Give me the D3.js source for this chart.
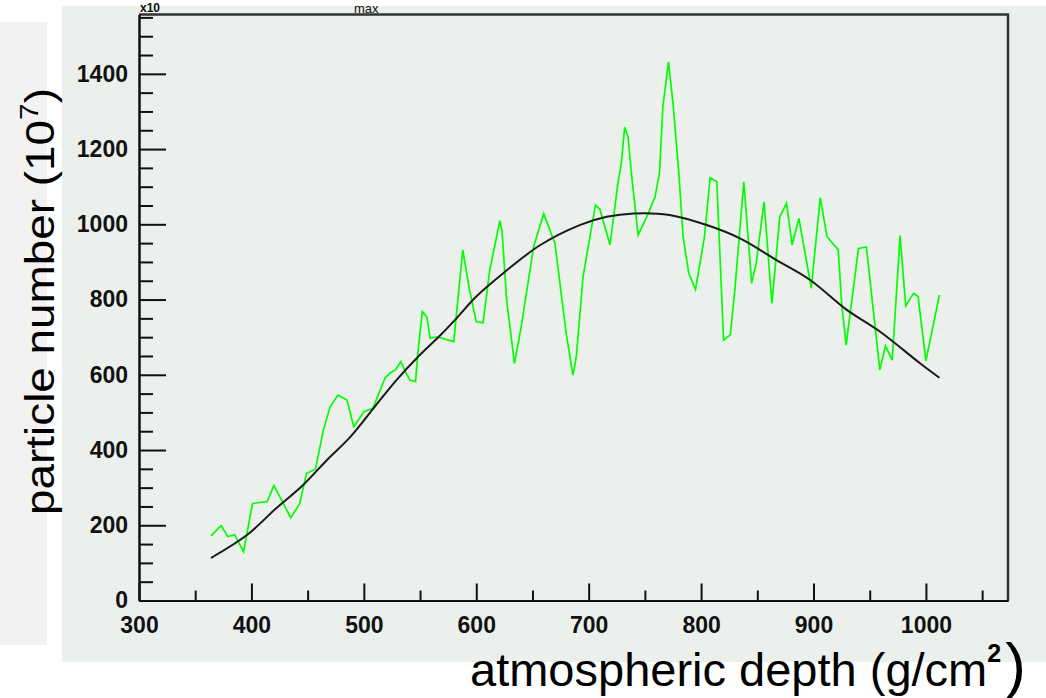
<!DOCTYPE html>
<html>
<head>
<meta charset="utf-8">
<script src="https://cdn.jsdelivr.net/npm/d3@7"></script>
<style>
  body { margin: 0; background: #fff; }
  svg { display: block; font-family: "Liberation Sans", Arial, Helvetica, sans-serif; }
  .tick text { font-size: 23px; font-weight: bold; fill: #111; }
</style>
</head>
<body>
<svg id="chart" width="1046" height="698"></svg>
<script>
// measured shower profile (green)
const depth = [364, 373, 379, 385, 393, 401, 414, 420, 435, 443, 449, 457, 464, 470, 477, 485, 491, 500, 508,
  519, 523, 528, 533, 537, 541, 546, 548, 552, 556, 559, 565, 580, 588, 594, 600, 606, 612, 621, 623, 627, 634,
  640, 651, 660, 670, 680, 686, 689, 695, 706, 710, 719, 726, 729, 732, 735, 738, 744, 753, 759, 763, 766, 771,
  775, 780, 784, 789, 795, 803, 808, 814, 820, 826, 830, 838, 845, 849, 856, 863, 870, 876, 881, 887, 898, 906,
  912, 922, 925, 929, 940, 947, 959, 964, 970, 977, 982, 989, 993, 1000, 1012];
const particles = [172, 199, 170, 175, 130, 258, 263, 306, 220, 258, 338, 349, 453, 515, 546, 533, 462, 502, 511,
  592, 604, 613, 635, 608, 586, 582, 657, 768, 754, 697, 701, 688, 932, 825, 741, 738, 878, 1010, 980, 799, 630,
  728, 940, 1029, 949, 710, 599, 648, 861, 1051, 1040, 945, 1109, 1162, 1258, 1233, 1136, 971, 1029, 1073, 1136, 1313, 1432,
  1322, 1144, 967, 870, 827, 967, 1124, 1113, 692, 706, 825, 1113, 843, 896, 1060, 790, 1020, 1056, 945, 1016, 830, 1071,
  967, 932, 790, 679, 936, 940, 613, 677, 639, 970, 783, 817, 808, 637, 812];

// fitted profile (black)
const fitDepth = [364, 396, 422, 446, 467, 488, 511, 529, 547, 568, 583, 600, 624, 657, 692, 716, 740, 772, 805,
  835, 867, 897, 929, 959, 995, 1012];
const fitParticles = [113, 174, 245, 307, 373, 435, 520, 586, 644, 705, 752, 808, 870, 945, 998, 1020, 1029, 1025, 998,
  962, 905, 852, 774, 715, 630, 592];

const xMajor = [300, 400, 500, 600, 700, 800, 900, 1000];
const xMinor = [350, 450, 550, 650, 750, 850, 950, 1050];
const yMajor = [0, 200, 400, 600, 800, 1000, 1200, 1400];
const yMinor = d3.range(50, 1551, 50).filter(v => v % 200 !== 0);

const svg = d3.select('#chart');

// background panels
svg.append('rect').attr('x', 0).attr('y', 22).attr('width', 47).attr('height', 623).attr('fill', '#f2f2f2');
svg.append('rect').attr('x', 62).attr('y', 6).attr('width', 984).attr('height', 656).attr('fill', '#ecf0ec');

const x = d3.scaleLinear().domain([300, 1073]).range([139, 1008]);
const y = d3.scaleLinear().domain([0, 1558]).range([600.5, 14.4]);

// frame top / right
svg.append('path')
  .attr('d', `M${x(300)},${y(1558)}H${x(1073)}V${y(0)}`)
  .attr('fill', 'none').attr('stroke', '#333').attr('stroke-width', 2.5);

// axes
svg.append('g').attr('transform', `translate(${x(300)},0)`)
  .call(d3.axisLeft(y).tickValues(yMajor).tickSizeInner(-27).tickSizeOuter(0).tickPadding(11).tickFormat(d3.format('d')));
svg.append('g').attr('transform', `translate(${x(300)},0)`)
  .call(d3.axisLeft(y).tickValues(yMinor).tickSizeInner(-14).tickSizeOuter(0).tickFormat(''));

svg.append('g').attr('transform', `translate(0,${y(0)})`)
  .call(d3.axisBottom(x).tickValues(xMajor).tickSizeInner(-17).tickSizeOuter(0).tickPadding(16).tickFormat(d3.format('d')));
svg.append('g').attr('transform', `translate(0,${y(0)})`)
  .call(d3.axisBottom(x).tickValues(xMinor).tickSizeInner(-10).tickSizeOuter(0).tickFormat(''));

svg.selectAll('.domain').attr('stroke', '#111').attr('stroke-width', 2);
svg.selectAll('.tick line').attr('stroke', '#111').attr('stroke-width', 2);

// curves
const line = d3.line().x(d => x(d[0])).y(d => y(d[1]));

svg.append('path')
  .datum(depth.map((d, i) => [d, particles[i]]))
  .attr('d', line)
  .attr('fill', 'none').attr('stroke', '#00ff00').attr('stroke-width', 1.7);

svg.append('path')
  .datum(fitDepth.map((d, i) => [d, fitParticles[i]]))
  .attr('d', line.curve(d3.curveCatmullRom))
  .attr('fill', 'none').attr('stroke', '#1a1a1a').attr('stroke-width', 2);

// small header text at the top edge
svg.append('text').attr('x', 140).attr('y', 12)
  .attr('font-size', 12).attr('font-weight', 'bold').attr('fill', '#111').text('x10');
svg.append('text').attr('x', 354).attr('y', 13)
  .attr('font-size', 13).attr('fill', '#111').text('max');

// axis titles
const yTitle = svg.append('text')
  .attr('transform', 'translate(54,515) rotate(-90)')
  .attr('font-size', 40).attr('fill', '#000')
  .attr('textLength', 427).attr('lengthAdjust', 'spacingAndGlyphs');
yTitle.append('tspan').text('particle number (10');
yTitle.append('tspan').attr('font-size', 26).attr('dy', -16).text('7');
yTitle.append('tspan').attr('dy', 16).text(')');

const xTitle = svg.append('text')
  .attr('x', 470).attr('y', 686)
  .attr('font-size', 47).attr('fill', '#000');
xTitle.append('tspan').text('atmospheric depth (g/cm');
xTitle.append('tspan').attr('font-size', 25).attr('font-weight', 'bold').attr('dy', -24).text('2');
xTitle.append('tspan').attr('font-size', 62).attr('dy', 24).attr('dx', 4).text(')');
</script>
</body>
</html>
